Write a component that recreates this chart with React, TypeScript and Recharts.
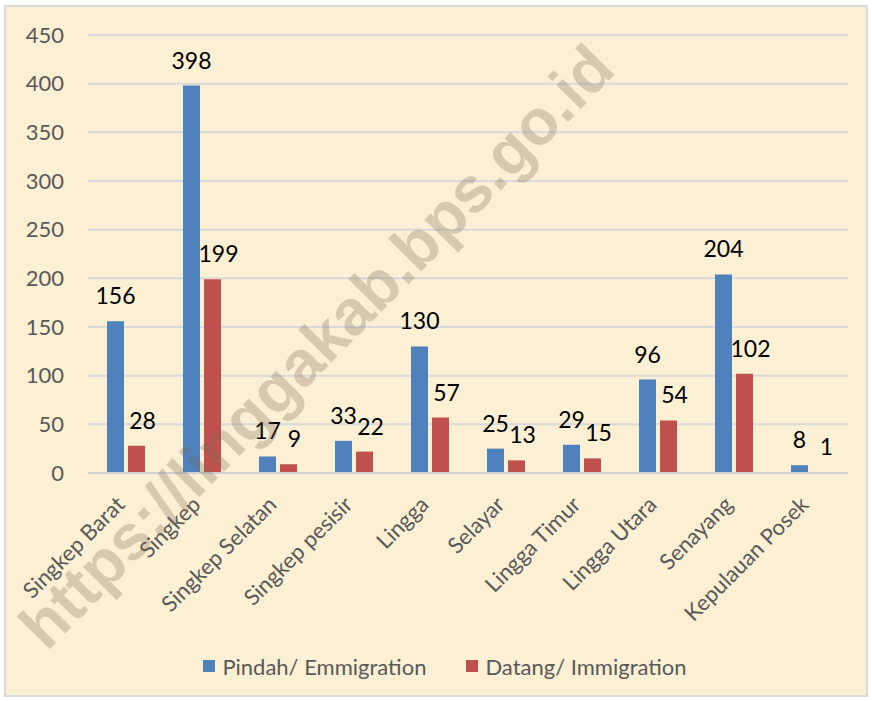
import React from "react";
import { BarChart, Bar, XAxis, YAxis, CartesianGrid, Legend, LabelList } from "recharts";

const districts = [
  "Singkep Barat",
  "Singkep",
  "Singkep Selatan",
  "Singkep pesisir",
  "Lingga",
  "Selayar",
  "Lingga Timur",
  "Lingga Utara",
  "Senayang",
  "Kepulauan Posek",
];
const pindah = [156, 398, 17, 33, 130, 25, 29, 96, 204, 8];
const datang = [28, 199, 9, 22, 57, 13, 15, 54, 102, 1];
const yTicks = [0, 50, 100, 150, 200, 250, 300, 350, 400, 450];

const data = districts.map((name, i) => ({ name, pindah: pindah[i], datang: datang[i] }));

const FONT = "Lato, 'Open Sans', sans-serif";
const BLUE = "#4F81BD";
const RED = "#C0504D";

const CategoryTick = (props: any) => {
  const { x, y, payload } = props;
  const tx = x;
  const ty = y + 25;
  return (
    <text
      x={tx}
      y={ty}
      transform={`rotate(-45, ${tx}, ${ty})`}
      textAnchor="end"
      fill="#595959"
      fontSize={22}
      fontFamily={FONT}
    >
      {payload.value}
    </text>
  );
};

const LegendContent = () => (
  <div
    style={{
      display: "flex",
      justifyContent: "center",
      alignItems: "center",
      height: 26,
      marginLeft: 42,
      fontFamily: FONT,
      fontSize: 22,
      color: "#595959",
    }}
  >
    <span style={{ width: 12, height: 12, background: BLUE, marginRight: 7 }} />
    <span style={{ marginRight: 40 }}>Pindah/ Emmigration</span>
    <span style={{ width: 12, height: 12, background: RED, marginRight: 7 }} />
    <span>Datang/ Immigration</span>
  </div>
);

export default function App() {
  return (
    <div style={{ position: "fixed", left: 0, top: 0, width: 872, height: 701, background: "#fff" }}>
      <div
        style={{
          position: "absolute",
          left: 4,
          top: 5,
          width: 860,
          height: 688,
          border: "2px solid #D9D9D9",
          background: "#FBEFD4",
        }}
      />
      <div style={{ position: "absolute", left: 0, top: 0 }}>
        <BarChart
          width={872}
          height={701}
          data={data}
          margin={{ top: 35, right: 24, left: 0, bottom: 22 }}
          barCategoryGap="25%"
          barGap={4}
        >
          <CartesianGrid vertical={false} stroke="#D9D9D9" strokeWidth={2} />
          <XAxis
            dataKey="name"
            interval={0}
            height={180}
            tickLine={false}
            axisLine={{ stroke: "#D0D0D0", strokeWidth: 2 }}
            tick={<CategoryTick />}
          />
          <YAxis
            width={88}
            domain={[0, 450]}
            ticks={yTicks}
            axisLine={false}
            tickLine={false}
            tickMargin={18}
            tick={{ fill: "#595959", fontSize: 22, fontFamily: FONT }}
          />
          <Legend verticalAlign="bottom" height={26} content={<LegendContent />} />
          <Bar dataKey="pindah" name="Pindah/ Emmigration" fill={BLUE} isAnimationActive={false}>
            <LabelList dataKey="pindah" position="top" offset={17} fill="#000" fontSize={23} fontFamily={FONT} />
          </Bar>
          <Bar dataKey="datang" name="Datang/ Immigration" fill={RED} isAnimationActive={false}>
            <LabelList dataKey="datang" position="top" offset={17} dx={6} fill="#000" fontSize={23} fontFamily={FONT} />
          </Bar>
        </BarChart>
      </div>
      <svg
        width={872}
        height={701}
        style={{ position: "absolute", left: 0, top: 0, pointerEvents: "none" }}
      >
        <text
          x={332}
          y={362}
          transform="rotate(-45.5, 332, 362)"
          textAnchor="middle"
          fontFamily="'Liberation Sans', Arial, sans-serif"
          fontWeight="bold"
          fontSize={64}
          fill="#7a6a55"
          opacity={0.28}
        >
          https://linggakab.bps.go.id
        </text>
      </svg>
    </div>
  );
}
